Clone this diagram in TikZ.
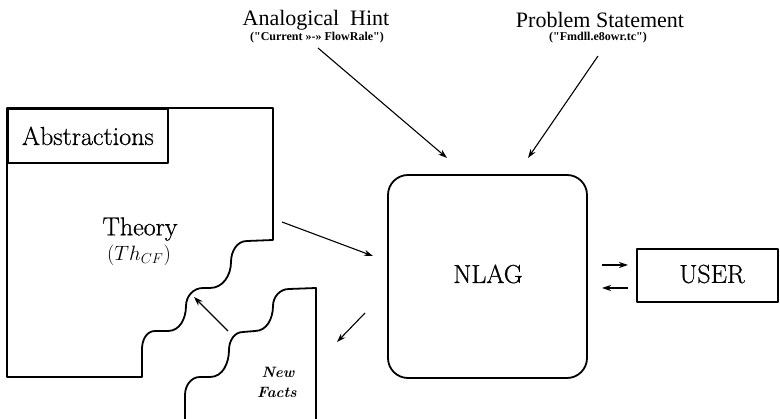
\documentclass[tikz,border=0pt]{standalone}
\usepackage{fontspec}
\newfontfamily\timesfont{Liberation Serif}
\newfontfamily\inkfont{Latin Modern Roman}[FakeBold=0.7]
\usetikzlibrary{arrows.meta}
\begin{document}
\begin{tikzpicture}[x=1pt,y=-1pt,
  outline/.style={line width=1.8pt, line join=round, line cap=round},
  arr/.style={line width=1.1pt, -{Stealth[length=9pt,width=6pt]}},
  bigcm/.style={font=\inkfont\fontsize{26}{30}\selectfont, inner sep=0pt},
  toplabel/.style={font=\timesfont\fontsize{22}{25}\selectfont, inner sep=0pt},
  sublabel/.style={font=\timesfont\bfseries\fontsize{12}{14}\selectfont, inner sep=0pt},
  factlabel/.style={font=\bfseries\itshape\fontsize{15}{17}\selectfont, inner sep=0pt}]
\useasboundingbox (0,0) rectangle (780,419);

% Theory region with its stepped, wavy lower-right border
\draw[outline] (7,108) -- (273,108) -- (273,240) -- (247,241)
  to[out=180,in=90] (231,262) to[out=270,in=0] (210,288) -- (203,288)
  to[out=180,in=90] (186,306) to[out=270,in=0] (168,331) -- (155,331)
  to[out=180,in=90] (142,349) -- (142,377) -- (7,377) -- cycle;
\node[draw, outline, anchor=north west, minimum width=160pt, minimum height=54pt,
  inner sep=0pt, font=\inkfont\fontsize{26}{30}\selectfont] (abs) at (7,108) {Abstractions};
\node[bigcm] (theory) at (140,229) {Theory};
\node[inner sep=0pt, font=\fontsize{20}{23}\selectfont] (thcf) at (139,255) {$(Th_{CF})$};

% New Facts region fitting into the steps
\draw[outline] (316,419) -- (316,288) -- (289,289)
  to[out=180,in=90] (273,306) to[out=270,in=0] (255,331) -- (243,332)
  to[out=180,in=90] (229,350) to[out=270,in=0] (210,377) -- (200,377)
  to[out=180,in=90] (185,395) -- (185,419);
\node[factlabel] (new) at (278,372) {New};
\node[factlabel] (facts) at (277,392) {Facts};

% NLAG and USER
\node[draw, outline, rounded corners=20pt, minimum width=199pt, minimum height=203pt,
  inner sep=0pt] (nlag) at (487.5,276.5) {};
\node[bigcm] (nlagtext) at (488,274) {NLAG};
\node[draw, outline, minimum width=141pt, minimum height=53pt, inner sep=0pt]
  (userbox) at (707.5,275.5) {};
\node[bigcm] (user) at (712,274) {USER};

% inputs from above
\node[toplabel] (hint) at (316,20) {Analogical\ \ Hint};
\node[sublabel] (hintsub) at (317,38) {("Current »-» FlowRale")};
\node[toplabel] (prob) at (600,20) {Problem Statement};
\node[sublabel] (probsub) at (598,38) {("Fmdll.e8owr.tc")};

% connector end points
\coordinate (hintA) at (318,48);
\coordinate (hintB) at (447,158);
\coordinate (probA) at (598,56);
\coordinate (probB) at (528,158);
\coordinate (thA) at (282,222);
\coordinate (thB) at (373,256);
\coordinate (nfA) at (365,313);
\coordinate (nfB) at (337,342);
\coordinate (upA) at (228,331);
\coordinate (upB) at (194,297);
\coordinate (toUserA) at (602,265);
\coordinate (toUserB) at (628,265);
\coordinate (fromUserA) at (628,288);
\coordinate (fromUserB) at (602,288);

\draw[arr] (hintA) -- (hintB);
\draw[arr] (probA) -- (probB);
\draw[arr] (thA) -- (thB);
\draw[arr] (nfA) -- (nfB);
\draw[arr] (upA) -- (upB);
\draw[arr] (toUserA) -- (toUserB);
\draw[arr] (fromUserA) -- (fromUserB);
\end{tikzpicture}
\end{document}
